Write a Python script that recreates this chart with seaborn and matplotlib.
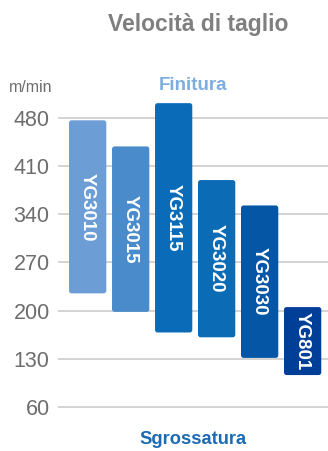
import matplotlib

matplotlib.use("Agg")
import matplotlib.pyplot as plt
import seaborn as sns
from matplotlib.patches import FancyBboxPatch

# grade ranges (m/min)
grades = ["YG3010", "YG3015", "YG3115", "YG3020", "YG3030", "YG801"]
v_low = [225, 198, 168, 161, 131, 106]
v_high = [477, 439, 502, 390, 353, 205]
colors = ["#6c9dd5", "#4a8bcb", "#0a6cb8", "#0b6bb4", "#0656a6", "#003f98"]
yticks = [60, 130, 200, 270, 340, 410, 480]

sns.set_theme(style="white")
plt.rcParams["font.family"] = ["Liberation Sans", "DejaVu Sans"]

fig = plt.figure(figsize=(3.28, 4.51), dpi=100)
ax = fig.add_axes([58 / 328, 0.0679, 270 / 328, 0.7308])

heights = [h - l for h, l in zip(v_high, v_low)]
sns.barplot(x=grades, y=heights, bottom=v_low, color=colors[0], width=0.867,
            ax=ax, zorder=3, order=grades)

# round bar corners; keep geometry from the bars seaborn drew
xpx = 270 / 6.28
ypx = 0.7308 * 451 / 480
bars = list(ax.patches)
for i, (bar, c) in enumerate(zip(bars, colors)):
    x0, y0 = bar.get_x(), bar.get_y()
    w, h = bar.get_width(), bar.get_height()
    bar.remove()
    r = FancyBboxPatch((x0, y0), w, h, boxstyle="round,pad=0,rounding_size=0.06",
                       mutation_aspect=xpx / ypx, facecolor=c, edgecolor="none",
                       zorder=3)
    ax.add_patch(r)
    ax.text(x0 + w / 2, y0 + h / 2, grades[i], rotation=-90,
            ha="center", va="center", color="white", fontsize=13.5,
            fontweight="bold", zorder=4)

ax.set_xlim(-0.69, 5.59)
ax.set_ylim(40, 520)
ax.set_yticks(yticks)
ax.set_xticks([])
ax.yaxis.grid(True, color="#cccccc", linewidth=1.2, zorder=0)
ax.tick_params(axis="y", length=0, pad=6, labelsize=15.5, labelcolor="#6d6d6d")
for s in ax.spines.values():
    s.set_visible(False)
ax.set_xlabel("")
ax.set_ylabel("")

fig.text(198 / 328, 1 - 24 / 451, "Velocità di taglio", ha="center", va="center",
         fontsize=16.5, fontweight="bold", color="#7f7f7f")
fig.text(31 / 328, 1 - 87 / 451, "m/min", ha="center", va="center",
         fontsize=11.5, color="#6d6d6d")
fig.text(193.5 / 328, 1 - 86 / 451, "Finitura", ha="center", va="center",
         fontsize=13.5, fontweight="bold", color="#7eaee0")
fig.text(193 / 328, 1 - 440 / 451, "Sgrossatura", ha="center", va="center",
         fontsize=13.2, fontweight="bold", color="#1a6ab4")

fig.savefig("out.png", dpi=100)
